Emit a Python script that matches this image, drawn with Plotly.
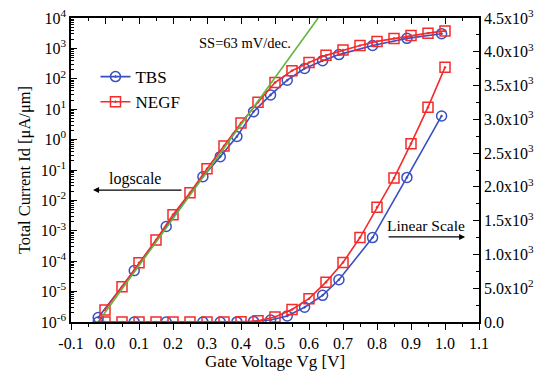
import plotly.graph_objects as go

# ---- data (current in uA/um) ----
vg_negf = [0.0, 0.05, 0.10, 0.15, 0.20, 0.25, 0.30, 0.35, 0.40, 0.45, 0.50,
           0.55, 0.60, 0.65, 0.70, 0.75, 0.80, 0.85, 0.90, 0.95, 1.00]
id_negf = [2.5e-6, 1.45e-5, 8.9e-5, 5.0e-4, 3.4e-3, 1.8e-2, 0.11, 0.62, 3.5, 17, 75,
           185, 345, 590, 880, 1250, 1700, 2130, 2640, 3180, 3770]

vg_tbs = [-0.02, 0.086, 0.18, 0.288, 0.339, 0.388, 0.437, 0.487, 0.536, 0.587,
          0.64, 0.688, 0.787, 0.888, 0.99]
id_tbs = [1.4e-6, 4.9e-5, 1.38e-3, 0.060, 0.275, 1.26, 8.3, 29.5, 90, 218,
          395, 625, 1250, 2140, 3050]

vg_fit = [-0.02, 0.627]
id_fit = [1e-6, 1e4]

x_ticks = [-0.1, 0.0, 0.1, 0.2, 0.3, 0.4, 0.5, 0.6, 0.7, 0.8, 0.9, 1.0, 1.1]
y_log_ticks = [1e-6, 1e-5, 1e-4, 1e-3, 1e-2, 1e-1, 1e0, 1e1, 1e2, 1e3, 1e4]
y_log_text = ["10<sup>-6</sup>", "10<sup>-5</sup>", "10<sup>-4</sup>", "10<sup>-3</sup>",
              "10<sup>-2</sup>", "10<sup>-1</sup>", "10<sup>0</sup>", "10<sup>1</sup>",
              "10<sup>2</sup>", "10<sup>3</sup>", "10<sup>4</sup>"]
y_lin_ticks = [0, 500, 1000, 1500, 2000, 2500, 3000, 3500, 4000, 4500]
y_lin_text = ["0.0", "5.0x10<sup>2</sup>", "1.0x10<sup>3</sup>", "1.5x10<sup>3</sup>",
              "2.0x10<sup>3</sup>", "2.5x10<sup>3</sup>", "3.0x10<sup>3</sup>",
              "3.5x10<sup>3</sup>", "4.0x10<sup>3</sup>", "4.5x10<sup>3</sup>"]

BLUE = "#3a4fc0"
RED = "#f52a2a"
GREEN = "#62b53e"
FONT = "Liberation Serif"

fig = go.Figure()

mk_c = dict(symbol="circle-open-dot", size=10, color=BLUE, line=dict(width=1.5, color=BLUE))
mk_s = dict(symbol="square-open-dot", size=10, color=RED, line=dict(width=1.5, color=RED))

# log-scale series
fig.add_trace(go.Scatter(x=vg_tbs, y=id_tbs, mode="lines+markers", name="TBS",
                         line=dict(color=BLUE, width=1.6), marker=mk_c))
fig.add_trace(go.Scatter(x=vg_negf, y=id_negf, mode="lines+markers", name="NEGF",
                         line=dict(color=RED, width=1.6), marker=mk_s))
fig.add_trace(go.Scatter(x=vg_fit, y=id_fit, mode="lines", showlegend=False,
                         line=dict(color=GREEN, width=1.6)))

# linear-scale series
fig.add_trace(go.Scatter(x=vg_tbs, y=id_tbs, mode="lines+markers", yaxis="y2",
                         showlegend=False, line=dict(color=BLUE, width=1.6), marker=mk_c))
fig.add_trace(go.Scatter(x=vg_negf, y=id_negf, mode="lines+markers", yaxis="y2",
                         showlegend=False, line=dict(color=RED, width=1.6), marker=mk_s))

# dummy trace to activate top axis
fig.add_trace(go.Scatter(x=[0.5], y=[1], xaxis="x2", mode="markers",
                         marker=dict(opacity=0), showlegend=False, hoverinfo="skip"))

axis_common = dict(showline=True, linecolor="black", linewidth=1.5, showgrid=False,
                   zeroline=False, tickcolor="black", automargin=False,
                   ticklabeloverflow="allow",
                   tickfont=dict(family=FONT, size=16, color="black"))

# page body has an 8px margin, so the figure is sized to fit the 545x372 window
fig.update_layout(
    width=537, height=364,
    margin=dict(l=63, r=66, t=10, b=50),
    paper_bgcolor="white", plot_bgcolor="white",
    font=dict(family=FONT, color="black"),
    xaxis=dict(range=[-0.1, 1.1], tickvals=x_ticks,
               ticktext=[f"{v:.1f}" for v in x_ticks],
               ticks="outside", ticklen=6, tickwidth=1.3,
               minor=dict(dtick=0.05, ticks="outside", ticklen=3, tickcolor="black"),
               title=dict(text="Gate Voltage Vg [V]", font=dict(family=FONT, size=17), standoff=2),
               **axis_common),
    xaxis2=dict(overlaying="x", side="top", range=[-0.1, 1.1], tickvals=x_ticks,
                showticklabels=False, ticks="inside", ticklen=6, tickwidth=1.3,
                minor=dict(dtick=0.05, ticks="inside", ticklen=3, tickcolor="black"),
                **axis_common),
    yaxis=dict(type="log", range=[-6, 4], tickvals=y_log_ticks, ticktext=y_log_text,
               ticks="inside", ticklen=6, tickwidth=1.3,
               minor=dict(dtick="D1", ticks="inside", ticklen=3, tickcolor="black"),
               title=dict(text="Total Current Id [μA/μm]", font=dict(family=FONT, size=16.5), standoff=6),
               **axis_common),
    yaxis2=dict(overlaying="y", side="right", range=[0, 4500], tickvals=y_lin_ticks,
                ticktext=y_lin_text, ticks="inside", ticklen=6, tickwidth=1.3,
                minor=dict(dtick=250, ticks="inside", ticklen=3, tickcolor="black"),
                **axis_common),
    legend=dict(x=0.06, y=0.865, xanchor="left", yanchor="top",
                bgcolor="rgba(0,0,0,0)", font=dict(family=FONT, size=17),
                tracegroupgap=2, itemwidth=30),
    showlegend=True,
)

fig.add_annotation(text="SS=63 mV/dec.", xref="paper", yref="paper", x=0.426, y=0.918,
                   xanchor="center", yanchor="middle",
                   showarrow=False, font=dict(family=FONT, size=14.5))
fig.add_annotation(text="logscale", xref="paper", yref="paper", x=0.157, y=0.47,
                   xanchor="center", yanchor="middle",
                   showarrow=False, font=dict(family=FONT, size=16))
fig.add_annotation(text="", xref="paper", yref="paper", x=0.054, y=0.434,
                   ax=90, ay=0, showarrow=True, arrowhead=2, arrowsize=1, arrowwidth=1.2,
                   arrowcolor="black")
fig.add_annotation(text="Linear Scale", xref="paper", yref="paper", x=0.87, y=0.316,
                   xanchor="center", yanchor="middle",
                   showarrow=False, font=dict(family=FONT, size=15.5))
fig.add_annotation(text="", xref="paper", yref="paper", x=0.966, y=0.28,
                   ax=-78, ay=0, showarrow=True, arrowhead=2, arrowsize=1, arrowwidth=1.2,
                   arrowcolor="black")

fig.write_html("out.html")
